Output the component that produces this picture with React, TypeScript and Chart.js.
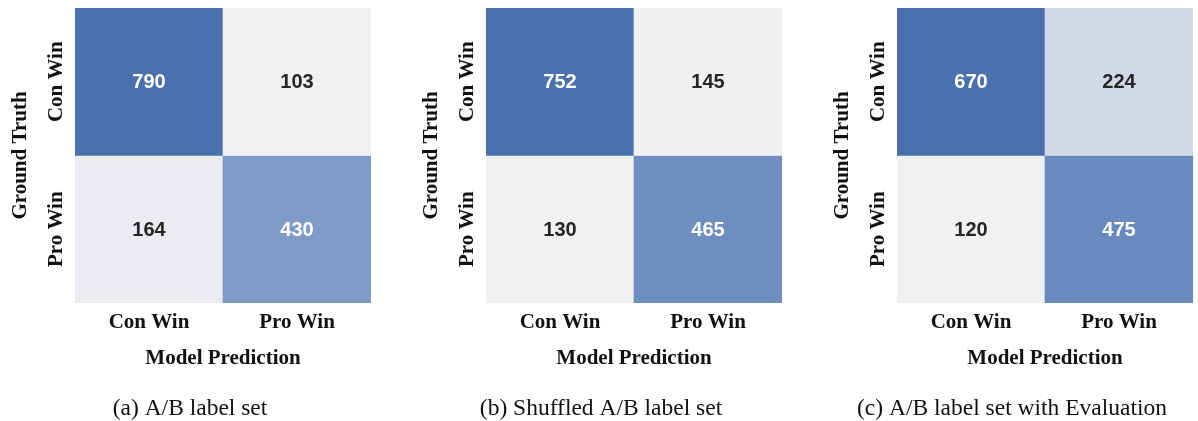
import React, { useEffect, useRef } from "react";
import { Chart, registerables } from "chart.js";

Chart.register(...registerables);

// ---- data ----
const predictionLabels = ["Con Win", "Pro Win"]; // columns (x)
const truthLabels = ["Con Win", "Pro Win"]; // rows (y)
const panelACounts = [
  [790, 103],
  [164, 430],
];
const panelBCounts = [
  [752, 145],
  [130, 465],
];
const panelCCounts = [
  [670, 224],
  [120, 475],
];
const captions = [
  "(a) A/B label set",
  "(b) Shuffled A/B label set",
  "(c) A/B label set with Evaluation",
];
const xAxisTitle = "Model Prediction";
const yAxisTitle = "Ground Truth";

// ---- style ----
const cmapStops: [number, number[]][] = [
  [0, [240, 241, 243]],
  [0.09, [235, 236, 240]],
  [0.19, [210, 216, 230]],
  [0.476, [127, 154, 199]],
  [0.539, [111, 142, 192]],
  [0.645, [106, 138, 191]],
  [1, [74, 112, 174]],
];

function cmap(t: number): number[] {
  if (t <= 0) return cmapStops[0][1];
  for (let i = 1; i < cmapStops.length; i++) {
    const [t1, c1] = cmapStops[i];
    const [t0, c0] = cmapStops[i - 1];
    if (t <= t1) {
      const f = (t - t0) / (t1 - t0);
      return c0.map((v, k) => Math.round(v + (c1[k] - v) * f));
    }
  }
  return cmapStops[cmapStops.length - 1][1];
}

function relLum(c: number[]): number {
  const lin = c.map((v) => {
    const s = v / 255;
    return s <= 0.03928 ? s / 12.92 : Math.pow((s + 0.055) / 1.055, 2.4);
  });
  return 0.2126 * lin[0] + 0.7152 * lin[1] + 0.0722 * lin[2];
}

const SERIF = '"Liberation Serif", "Times New Roman", serif';
const SANS = '"Liberation Sans", Arial, sans-serif';

const CANVAS_W = 411;
const CANVAS_H = 421;

function Panel({ counts, caption, left }: { counts: number[][]; caption: string; left: number }) {
  const ref = useRef<HTMLCanvasElement | null>(null);
  useEffect(() => {
    const canvas = ref.current;
    if (!canvas) return;
    const flat = counts.flat();
    const vmin = Math.min(...flat);
    const vmax = Math.max(...flat);
    const colorOf = (v: number) => {
      const c = cmap((v - vmin) / (vmax - vmin));
      return { css: `rgb(${c[0]},${c[1]},${c[2]})`, lum: relLum(c) };
    };

    const datasets = truthLabels.map((rowLabel, r) => ({
      label: rowLabel,
      data: predictionLabels.map(() => [r, r + 1]),
      backgroundColor: counts[r].map((v) => colorOf(v).css),
      borderWidth: 0,
      borderSkipped: false,
      barPercentage: 1,
      categoryPercentage: 1,
    }));

    const textPlugin = {
      id: "heatText",
      afterDatasetsDraw(chart: any) {
        const ctx = chart.ctx;
        const xs = chart.scales.x;
        const ys = chart.scales.y;
        const area = chart.chartArea;
        ctx.save();
        // cell annotations
        ctx.font = `bold 20px ${SANS}`;
        ctx.textAlign = "center";
        ctx.textBaseline = "middle";
        truthLabels.forEach((_, r) => {
          predictionLabels.forEach((__, c) => {
            const v = counts[r][c];
            const col = colorOf(v);
            ctx.fillStyle = col.lum < 0.408 ? "#ffffff" : "#262626";
            ctx.fillText(String(v), xs.getPixelForValue(c), ys.getPixelForValue(r + 0.5) + 1);
          });
        });
        // x tick labels
        ctx.fillStyle = "#111111";
        ctx.font = `bold 21px ${SERIF}`;
        ctx.textBaseline = "alphabetic";
        predictionLabels.forEach((lab, c) => {
          ctx.fillText(lab, xs.getPixelForValue(c), area.bottom + 25);
        });
        // x title
        ctx.fillText(xAxisTitle, (area.left + area.right) / 2, area.bottom + 61);
        // y tick labels (rotated)
        truthLabels.forEach((lab, r) => {
          ctx.save();
          ctx.translate(area.left - 13, ys.getPixelForValue(r + 0.5));
          ctx.rotate(-Math.PI / 2);
          ctx.fillText(lab, 0, 0);
          ctx.restore();
        });
        // y title
        ctx.save();
        ctx.translate(area.left - 49, (area.top + area.bottom) / 2);
        ctx.rotate(-Math.PI / 2);
        ctx.fillText(yAxisTitle, 0, 0);
        ctx.restore();
        // caption
        ctx.font = `23.5px ${SERIF}`;
        ctx.fillText(caption, (area.left + area.right) / 2 - 33, area.bottom + 112);
        ctx.restore();
      },
    };

    const chart = new Chart(canvas, {
      type: "bar",
      data: { labels: predictionLabels, datasets: datasets as any },
      options: {
        responsive: false,
        animation: false,
        devicePixelRatio: 1,
        layout: { padding: { left: 75, right: CANVAS_W - 371, top: 8, bottom: CANVAS_H - 303 } },
        plugins: { legend: { display: false }, tooltip: { enabled: false }, title: { display: false } },
        scales: {
          x: { type: "category", stacked: true, display: false, offset: true, grid: { display: false } },
          y: { type: "linear", stacked: false, display: false, min: 0, max: 2, reverse: true, grid: { display: false } },
        },
      },
      plugins: [textPlugin],
    });
    return () => chart.destroy();
  }, [counts, caption]);

  return (
    <canvas
      ref={ref}
      width={CANVAS_W}
      height={CANVAS_H}
      style={{ position: "absolute", left, top: 0, width: CANVAS_W, height: CANVAS_H }}
    />
  );
}

export default function App() {
  return (
    <div
      style={{
        position: "fixed",
        left: 0,
        top: 0,
        width: 1198,
        height: 421,
        overflow: "hidden",
        background: "#ffffff",
      }}
    >
      <Panel counts={panelACounts} caption={captions[0]} left={0} />
      <Panel counts={panelBCounts} caption={captions[1]} left={411} />
      <Panel counts={panelCCounts} caption={captions[2]} left={822} />
    </div>
  );
}
